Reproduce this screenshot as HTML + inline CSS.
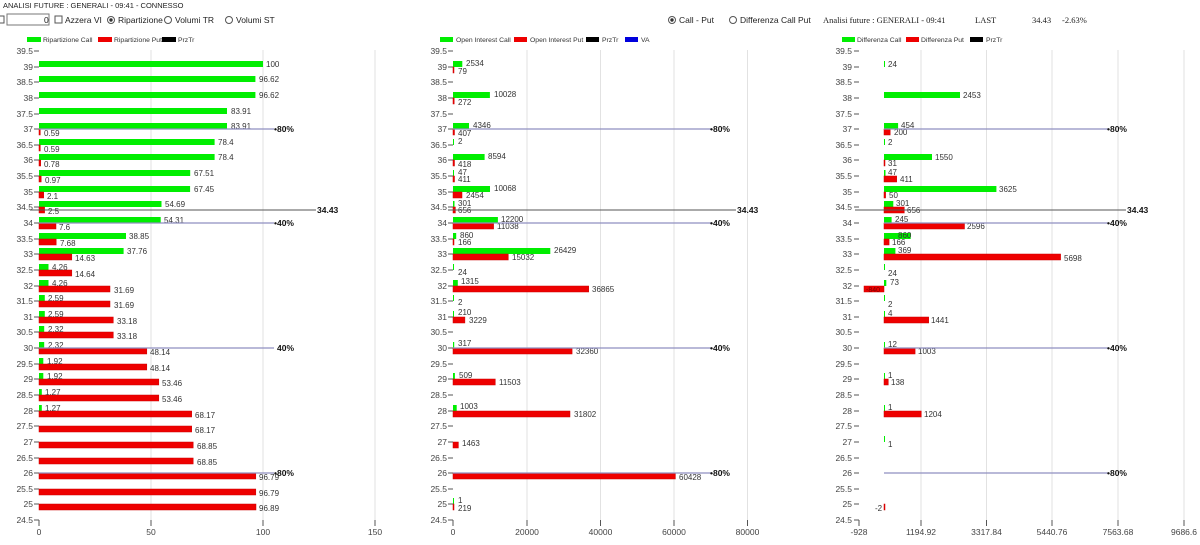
<!DOCTYPE html>
<html><head><meta charset="utf-8"><style>
html,body{margin:0;padding:0;background:#fff;}
svg{display:block;font-family:"Liberation Sans",sans-serif;}
.t{font-size:8px;fill:#333;}
.ax{font-size:8.5px;fill:#444;}
.lg{font-size:6.8px;fill:#333;}
.ui{font-size:8.5px;fill:#222;}
.b{font-size:8.5px;font-weight:bold;fill:#111;}
.g{fill:#00ee00;}
.r{fill:#ee0000;stroke:#c00;stroke-width:.5;}
.gl{stroke:#e2e2e2;stroke-width:1;}
.pl{stroke:#8f8fc0;stroke-width:1.2;}
.kl{stroke:#555;stroke-width:1;}
.tk{stroke:#555;stroke-width:1;fill:none;}
.sf{font-family:'Liberation Serif',serif;font-size:8.5px;fill:#222;}
</style></head><body>
<svg width="1200" height="545" viewBox="0 0 1200 545">
<!-- header -->
<text x="3" y="8" class="ui" style="font-size:7.5px">ANALISI FUTURE : GENERALI - 09:41 - CONNESSO</text>
<rect x="-3" y="16" width="7" height="7" fill="#fff" stroke="#555"/>
<rect x="7" y="14" width="42" height="11" fill="#fff" stroke="#777"/>
<text x="44" y="23" class="ui">0</text>
<rect x="55" y="16" width="7" height="7" fill="#fff" stroke="#555"/>
<text x="65" y="23" class="ui">Azzera VI</text>
<circle cx="111" cy="20" r="3.5" fill="#fff" stroke="#555"/><circle cx="111" cy="20" r="1.7" fill="#333"/>
<text x="118" y="23" class="ui">Ripartizione</text>
<circle cx="168" cy="20" r="3.5" fill="#fff" stroke="#555"/>
<text x="175" y="23" class="ui">Volumi TR</text>
<circle cx="229" cy="20" r="3.5" fill="#fff" stroke="#555"/>
<text x="236" y="23" class="ui">Volumi ST</text>
<circle cx="672" cy="20" r="3.5" fill="#fff" stroke="#555"/><circle cx="672" cy="20" r="1.7" fill="#333"/>
<text x="679" y="23" class="ui">Call - Put</text>
<circle cx="733" cy="20" r="3.5" fill="#fff" stroke="#555"/>
<text x="740" y="23" class="ui">Differenza Call Put</text>
<text x="823" y="23" class="sf">Analisi future : GENERALI - 09:41</text>
<text x="975" y="23" class="sf">LAST</text>
<text x="1032" y="23" class="sf">34.43</text>
<text x="1062" y="23" class="sf">-2.63%</text>
<!-- legends -->
<rect x="27" y="37" width="14" height="5" fill="#00ee00"/><text x="43" y="42" class="lg">Ripartizione Call</text>
<rect x="98" y="37" width="14" height="5" fill="#ee0000"/><text x="114" y="42" class="lg">Ripartizione Put</text>
<rect x="162" y="37" width="14" height="5" fill="#000"/><text x="178" y="42" class="lg">PrzTr</text>
<rect x="440" y="37" width="13" height="5" fill="#00ee00"/><text x="456" y="42" class="lg">Open Interest Call</text>
<rect x="514" y="37" width="13" height="5" fill="#ee0000"/><text x="530" y="42" class="lg">Open Interest Put</text>
<rect x="586" y="37" width="13" height="5" fill="#000"/><text x="602" y="42" class="lg">PrzTr</text>
<rect x="625" y="37" width="13" height="5" fill="#0000dd"/><text x="641" y="42" class="lg">VA</text>
<rect x="842" y="37" width="13" height="5" fill="#00ee00"/><text x="857" y="42" class="lg">Differenza Call</text>
<rect x="906" y="37" width="13" height="5" fill="#ee0000"/><text x="921" y="42" class="lg">Differenza Put</text>
<rect x="970" y="37" width="13" height="5" fill="#000"/><text x="986" y="42" class="lg">PrzTr</text>

<!-- gridlines -->
<g class="gl">
<line x1="151" y1="50" x2="151" y2="520"/><line x1="263" y1="50" x2="263" y2="520"/><line x1="375" y1="50" x2="375" y2="520"/>
<line x1="527" y1="50" x2="527" y2="520"/><line x1="600.5" y1="50" x2="600.5" y2="520"/><line x1="674" y1="50" x2="674" y2="520"/><line x1="747.5" y1="50" x2="747.5" y2="520"/>
<line x1="921" y1="50" x2="921" y2="520"/><line x1="986.5" y1="50" x2="986.5" y2="520"/><line x1="1052" y1="50" x2="1052" y2="520"/><line x1="1118" y1="50" x2="1118" y2="520"/><line x1="1184" y1="50" x2="1184" y2="520"/>
</g>

<g class="ax" text-anchor="end">
<text x="33" y="54">39.5</text><text x="33" y="70">39</text><text x="33" y="85">38.5</text><text x="33" y="101">38</text><text x="33" y="117">37.5</text><text x="33" y="132">37</text><text x="33" y="148">36.5</text><text x="33" y="163">36</text><text x="33" y="179">35.5</text><text x="33" y="195">35</text><text x="33" y="210">34.5</text><text x="33" y="226">34</text><text x="33" y="242">33.5</text><text x="33" y="257">33</text><text x="33" y="273">32.5</text><text x="33" y="289">32</text><text x="33" y="304">31.5</text><text x="33" y="320">31</text><text x="33" y="335">30.5</text><text x="33" y="351">30</text><text x="33" y="367">29.5</text><text x="33" y="382">29</text><text x="33" y="398">28.5</text><text x="33" y="414">28</text><text x="33" y="429">27.5</text><text x="33" y="445">27</text><text x="33" y="461">26.5</text><text x="33" y="476">26</text><text x="33" y="492">25.5</text><text x="33" y="507">25</text><text x="33" y="523">24.5</text>
</g>
<g class="ax" text-anchor="end">
<text x="447" y="54">39.5</text><text x="447" y="70">39</text><text x="447" y="85">38.5</text><text x="447" y="101">38</text><text x="447" y="117">37.5</text><text x="447" y="132">37</text><text x="447" y="148">36.5</text><text x="447" y="163">36</text><text x="447" y="179">35.5</text><text x="447" y="195">35</text><text x="447" y="210">34.5</text><text x="447" y="226">34</text><text x="447" y="242">33.5</text><text x="447" y="257">33</text><text x="447" y="273">32.5</text><text x="447" y="289">32</text><text x="447" y="304">31.5</text><text x="447" y="320">31</text><text x="447" y="335">30.5</text><text x="447" y="351">30</text><text x="447" y="367">29.5</text><text x="447" y="382">29</text><text x="447" y="398">28.5</text><text x="447" y="414">28</text><text x="447" y="429">27.5</text><text x="447" y="445">27</text><text x="447" y="461">26.5</text><text x="447" y="476">26</text><text x="447" y="492">25.5</text><text x="447" y="507">25</text><text x="447" y="523">24.5</text>
</g>
<g class="ax" text-anchor="end">
<text x="852" y="54">39.5</text><text x="852" y="70">39</text><text x="852" y="85">38.5</text><text x="852" y="101">38</text><text x="852" y="117">37.5</text><text x="852" y="132">37</text><text x="852" y="148">36.5</text><text x="852" y="163">36</text><text x="852" y="179">35.5</text><text x="852" y="195">35</text><text x="852" y="210">34.5</text><text x="852" y="226">34</text><text x="852" y="242">33.5</text><text x="852" y="257">33</text><text x="852" y="273">32.5</text><text x="852" y="289">32</text><text x="852" y="304">31.5</text><text x="852" y="320">31</text><text x="852" y="335">30.5</text><text x="852" y="351">30</text><text x="852" y="367">29.5</text><text x="852" y="382">29</text><text x="852" y="398">28.5</text><text x="852" y="414">28</text><text x="852" y="429">27.5</text><text x="852" y="445">27</text><text x="852" y="461">26.5</text><text x="852" y="476">26</text><text x="852" y="492">25.5</text><text x="852" y="507">25</text><text x="852" y="523">24.5</text>
</g>
<g class="tk">
<path d="M34 51h5M34 67h5M34 82h5M34 98h5M34 114h5M34 129h5M34 145h5M34 160h5M34 176h5M34 192h5M34 207h5M34 223h5M34 239h5M34 254h5M34 270h5M34 286h5M34 301h5M34 317h5M34 332h5M34 348h5M34 364h5M34 379h5M34 395h5M34 411h5M34 426h5M34 442h5M34 458h5M34 473h5M34 489h5M34 504h5M34 520h5M39 520v6"/>
<path d="M448 51h5M448 67h5M448 82h5M448 98h5M448 114h5M448 129h5M448 145h5M448 160h5M448 176h5M448 192h5M448 207h5M448 223h5M448 239h5M448 254h5M448 270h5M448 286h5M448 301h5M448 317h5M448 332h5M448 348h5M448 364h5M448 379h5M448 395h5M448 411h5M448 426h5M448 442h5M448 458h5M448 473h5M448 489h5M448 504h5M448 520h5M453 520v6"/>
<path d="M854 51h5M854 67h5M854 82h5M854 98h5M854 114h5M854 129h5M854 145h5M854 160h5M854 176h5M854 192h5M854 207h5M854 223h5M854 239h5M854 254h5M854 270h5M854 286h5M854 301h5M854 317h5M854 332h5M854 348h5M854 364h5M854 379h5M854 395h5M854 411h5M854 426h5M854 442h5M854 458h5M854 473h5M854 489h5M854 504h5M854 520h5M859 520v6"/>
<path d="M151 520v6M263 520v6M375 520v6M527 520v6M600.5 520v6M674 520v6M747.5 520v6M921 520v6M986.5 520v6M1052 520v6M1118 520v6M1184 520v6"/>
</g>
<g class="ax" text-anchor="middle">
<text x="39" y="535">0</text><text x="151" y="535">50</text><text x="263" y="535">100</text><text x="375" y="535">150</text>
<text x="453" y="535">0</text><text x="527" y="535">20000</text><text x="600.5" y="535">40000</text><text x="674" y="535">60000</text><text x="747.5" y="535">80000</text>
<text x="859" y="535">-928</text><text x="921" y="535">1194.92</text><text x="986.5" y="535">3317.84</text><text x="1052" y="535">5440.76</text><text x="1118" y="535">7563.68</text><text x="1184" y="535">9686.6</text>
</g>

<!-- LEFT bars -->
<g>
<rect class="g" x="39" y="61" width="224" height="6"/>
<rect class="g" x="39" y="76" width="216.4" height="6"/>
<rect class="g" x="39" y="92" width="216.4" height="6"/>
<rect class="g" x="39" y="108" width="188" height="6"/>
<rect class="g" x="39" y="123" width="188" height="6"/>
<rect class="g" x="39" y="139" width="175.6" height="6"/>
<rect class="g" x="39" y="154" width="175.6" height="6"/>
<rect class="g" x="39" y="170" width="151.2" height="6"/>
<rect class="g" x="39" y="186" width="151.1" height="6"/>
<rect class="g" x="39" y="201" width="122.5" height="6"/>
<rect class="g" x="39" y="217" width="121.7" height="6"/>
<rect class="g" x="39" y="233" width="87" height="6"/>
<rect class="g" x="39" y="248" width="84.6" height="6"/>
<rect class="g" x="39" y="264" width="9.5" height="6"/>
<rect class="g" x="39" y="280" width="9.5" height="6"/>
<rect class="g" x="39" y="295" width="5.8" height="6"/>
<rect class="g" x="39" y="311" width="5.8" height="6"/>
<rect class="g" x="39" y="326" width="5.2" height="6"/>
<rect class="g" x="39" y="342" width="5.2" height="6"/>
<rect class="g" x="39" y="358" width="4.3" height="6"/>
<rect class="g" x="39" y="373" width="4.3" height="6"/>
<rect class="g" x="39" y="389" width="2.8" height="6"/>
<rect class="g" x="39" y="405" width="2.8" height="6"/>
<rect class="r" x="39" y="129" width="1.3" height="6"/>
<rect class="r" x="39" y="145" width="1.3" height="6"/>
<rect class="r" x="39" y="160" width="1.7" height="6"/>
<rect class="r" x="39" y="176" width="2.2" height="6"/>
<rect class="r" x="39" y="192" width="4.7" height="6"/>
<rect class="r" x="39" y="207" width="5.6" height="6"/>
<rect class="r" x="39" y="223" width="17" height="6"/>
<rect class="r" x="39" y="239" width="17.2" height="6"/>
<rect class="r" x="39" y="254" width="32.8" height="6"/>
<rect class="r" x="39" y="270" width="32.8" height="6"/>
<rect class="r" x="39" y="286" width="71" height="6"/>
<rect class="r" x="39" y="301" width="71" height="6"/>
<rect class="r" x="39" y="317" width="74.3" height="6"/>
<rect class="r" x="39" y="332" width="74.3" height="6"/>
<rect class="r" x="39" y="348" width="107.8" height="6"/>
<rect class="r" x="39" y="364" width="107.8" height="6"/>
<rect class="r" x="39" y="379" width="119.8" height="6"/>
<rect class="r" x="39" y="395" width="119.8" height="6"/>
<rect class="r" x="39" y="411" width="152.7" height="6"/>
<rect class="r" x="39" y="426" width="152.7" height="6"/>
<rect class="r" x="39" y="442" width="154.2" height="6"/>
<rect class="r" x="39" y="458" width="154.2" height="6"/>
<rect class="r" x="39" y="473" width="216.8" height="6"/>
<rect class="r" x="39" y="489" width="216.8" height="6"/>
<rect class="r" x="39" y="504" width="217" height="6"/>
</g>
<g class="t">
<text x="266" y="67">100</text><text x="259" y="82">96.62</text><text x="259" y="98">96.62</text><text x="231" y="114">83.91</text><text x="231" y="129">83.91</text><text x="218" y="145">78.4</text><text x="218" y="160">78.4</text><text x="194" y="176">67.51</text><text x="194" y="192">67.45</text><text x="165" y="207">54.69</text><text x="164" y="223">54.31</text><text x="129" y="239">38.85</text><text x="127" y="254">37.76</text><text x="52" y="270">4.26</text><text x="52" y="286">4.26</text><text x="48" y="301">2.59</text><text x="48" y="317">2.59</text><text x="48" y="332">2.32</text><text x="48" y="348">2.32</text><text x="47" y="364">1.92</text><text x="47" y="379">1.92</text><text x="45" y="395">1.27</text><text x="45" y="411">1.27</text>
<text x="44" y="136">0.59</text><text x="44" y="152">0.59</text><text x="44" y="167">0.78</text><text x="45" y="183">0.97</text><text x="47" y="199">2.1</text><text x="48" y="214">2.5</text><text x="59" y="230">7.6</text><text x="60" y="246">7.68</text><text x="75" y="261">14.63</text><text x="75" y="277">14.64</text><text x="114" y="293">31.69</text><text x="114" y="308">31.69</text><text x="117" y="324">33.18</text><text x="117" y="339">33.18</text><text x="150" y="355">48.14</text><text x="150" y="371">48.14</text><text x="162" y="386">53.46</text><text x="162" y="402">53.46</text><text x="195" y="418">68.17</text><text x="195" y="433">68.17</text><text x="197" y="449">68.85</text><text x="197" y="465">68.85</text><text x="259" y="480">96.79</text><text x="259" y="496">96.79</text><text x="259" y="511">96.89</text>
</g>

<!-- MIDDLE bars -->
<g>
<rect class="g" x="453" y="61" width="9.3" height="6"/>
<rect class="g" x="453" y="92" width="36.9" height="6"/>
<rect class="g" x="453" y="123" width="16" height="6"/>
<rect class="g" x="453" y="139" width="1" height="6"/>
<rect class="g" x="453" y="154" width="31.6" height="6"/>
<rect class="g" x="453" y="170" width="1" height="6"/>
<rect class="g" x="453" y="186" width="37" height="6"/>
<rect class="g" x="453" y="201" width="1.5" height="6"/>
<rect class="g" x="453" y="217" width="44.9" height="6"/>
<rect class="g" x="453" y="233" width="3.2" height="6"/>
<rect class="g" x="453" y="248" width="97.3" height="6"/>
<rect class="g" x="453" y="264" width="1" height="6"/>
<rect class="g" x="453" y="280" width="4.8" height="6"/>
<rect class="g" x="453" y="295" width="1" height="6"/>
<rect class="g" x="453" y="311" width="1" height="6"/>
<rect class="g" x="453" y="342" width="1.2" height="6"/>
<rect class="g" x="453" y="373" width="1.9" height="6"/>
<rect class="g" x="453" y="405" width="3.7" height="6"/>
<rect class="g" x="453" y="498" width="1" height="6"/>
<rect class="r" x="453" y="67" width="1" height="6"/>
<rect class="r" x="453" y="98" width="1.2" height="6"/>
<rect class="r" x="453" y="129" width="1.5" height="6"/>
<rect class="r" x="453" y="160" width="1.5" height="6"/>
<rect class="r" x="453" y="176" width="1.5" height="6"/>
<rect class="r" x="453" y="192" width="9" height="6"/>
<rect class="r" x="453" y="207" width="2.4" height="6"/>
<rect class="r" x="453" y="223" width="40.6" height="6"/>
<rect class="r" x="453" y="239" width="1" height="6"/>
<rect class="r" x="453" y="254" width="55.3" height="6"/>
<rect class="r" x="453" y="286" width="135.7" height="6"/>
<rect class="r" x="453" y="317" width="11.9" height="6"/>
<rect class="r" x="453" y="348" width="119.1" height="6"/>
<rect class="r" x="453" y="379" width="42.3" height="6"/>
<rect class="r" x="453" y="411" width="117" height="6"/>
<rect class="r" x="453" y="442" width="5.4" height="6"/>
<rect class="r" x="453" y="473" width="222.4" height="6"/>
<rect class="r" x="453" y="504" width="1" height="6"/>
</g>
<g class="t">
<text x="466" y="66">2534</text><text x="494" y="97">10028</text><text x="473" y="128">4346</text><text x="458" y="144">2</text><text x="488" y="159">8594</text><text x="458" y="175">47</text><text x="494" y="191">10068</text><text x="458" y="206">301</text><text x="501" y="222">12200</text><text x="460" y="238">860</text><text x="554" y="253">26429</text><text x="458" y="275">24</text><text x="461" y="284">1315</text><text x="458" y="305">2</text><text x="458" y="315">210</text><text x="458" y="346">317</text><text x="459" y="378">509</text><text x="460" y="409">1003</text><text x="458" y="503">1</text>
<text x="458" y="74">79</text><text x="458" y="105">272</text><text x="458" y="136">407</text><text x="458" y="167">418</text><text x="458" y="182">411</text><text x="466" y="198">2454</text><text x="458" y="213">656</text><text x="497" y="229">11038</text><text x="458" y="245">166</text><text x="512" y="260">15032</text><text x="592" y="292">36865</text><text x="469" y="323">3229</text><text x="576" y="354">32360</text><text x="499" y="385">11503</text><text x="574" y="417">31802</text><text x="462" y="446">1463</text><text x="679" y="480">60428</text><text x="458" y="511">219</text>
</g>

<!-- RIGHT bars -->
<g>
<rect class="g" x="884" y="61" width="1" height="6"/>
<rect class="g" x="884" y="92" width="76" height="6"/>
<rect class="g" x="884" y="123" width="14.1" height="6"/>
<rect class="g" x="884" y="139" width="1" height="6"/>
<rect class="g" x="884" y="154" width="48" height="6"/>
<rect class="g" x="884" y="170" width="1.5" height="6"/>
<rect class="g" x="884" y="186" width="112.4" height="6"/>
<rect class="g" x="884" y="201" width="9.3" height="6"/>
<rect class="g" x="884" y="217" width="7.6" height="6"/>
<rect class="g" x="884" y="233" width="26.7" height="6"/>
<rect class="g" x="884" y="248" width="11.4" height="6"/>
<rect class="g" x="884" y="264" width="1" height="6"/>
<rect class="g" x="884" y="280" width="2.3" height="6"/>
<rect class="g" x="884" y="295" width="1" height="6"/>
<rect class="g" x="884" y="311" width="1" height="6"/>
<rect class="g" x="884" y="342" width="1" height="6"/>
<rect class="g" x="884" y="373" width="1" height="6"/>
<rect class="g" x="884" y="405" width="1" height="6"/>
<rect class="g" x="884" y="436" width="1" height="6"/>
<rect class="r" x="884" y="129" width="6.2" height="6"/>
<rect class="r" x="884" y="160" width="1" height="6"/>
<rect class="r" x="884" y="176" width="12.7" height="6"/>
<rect class="r" x="884" y="192" width="1.6" height="6"/>
<rect class="r" x="884" y="207" width="20.3" height="6"/>
<rect class="r" x="884" y="223" width="80.5" height="6"/>
<rect class="r" x="884" y="239" width="5.1" height="6"/>
<rect class="r" x="884" y="254" width="176.6" height="6"/>
<rect class="r" x="864" y="286" width="20" height="6"/>
<rect class="r" x="884" y="317" width="44.7" height="6"/>
<rect class="r" x="884" y="348" width="31.1" height="6"/>
<rect class="r" x="884" y="379" width="4.3" height="6"/>
<rect class="r" x="884" y="411" width="37.3" height="6"/>
<rect class="r" x="884" y="504" width="1" height="6"/>
</g>
<g class="t">
<text x="888" y="67">24</text><text x="963" y="98">2453</text><text x="901" y="128">454</text><text x="888" y="145">2</text><text x="935" y="160">1550</text><text x="888" y="175">47</text><text x="999" y="192">3625</text><text x="896" y="206">301</text><text x="895" y="222">245</text><text x="898" y="238">860</text><text x="898" y="253">369</text><text x="888" y="276">24</text><text x="890" y="285">73</text><text x="888" y="307">2</text><text x="888" y="316">4</text><text x="888" y="347">12</text><text x="888" y="378">1</text><text x="888" y="410">1</text><text x="888" y="447">1</text>
<text x="894" y="135">200</text><text x="888" y="166">31</text><text x="900" y="182">411</text><text x="889" y="198">50</text><text x="907" y="213">656</text><text x="967" y="229">2596</text><text x="892" y="245">166</text><text x="1064" y="261">5698</text><text x="866" y="292" style="fill:#700;font-size:7px">-840</text><text x="931" y="323">1441</text><text x="918" y="354">1003</text><text x="891" y="385">138</text><text x="924" y="417">1204</text><text x="875" y="511">-2</text>
</g>

<!-- reference lines -->
<g class="kl">
<line x1="30" y1="210" x2="316" y2="210"/>
<line x1="448" y1="210" x2="736" y2="210"/>
<line x1="855" y1="210" x2="1126" y2="210"/>
</g>
<g class="pl">
<line x1="39" y1="129" x2="274" y2="129"/><line x1="39" y1="223" x2="274" y2="223"/><line x1="39" y1="348" x2="274" y2="348"/><line x1="39" y1="473" x2="274" y2="473"/>
<line x1="453" y1="129" x2="711" y2="129"/><line x1="453" y1="223" x2="711" y2="223"/><line x1="453" y1="348" x2="711" y2="348"/><line x1="453" y1="473" x2="711" y2="473"/>
<line x1="884" y1="129" x2="1108" y2="129"/><line x1="884" y1="223" x2="1108" y2="223"/><line x1="884" y1="348" x2="1108" y2="348"/><line x1="884" y1="473" x2="1108" y2="473"/>
</g>
<g class="b">
<text x="274" y="132">•80%</text><text x="274" y="226">•40%</text><text x="277" y="351">40%</text><text x="274" y="476">•80%</text><text x="317" y="213">34.43</text>
<text x="710" y="132">•80%</text><text x="710" y="226">•40%</text><text x="710" y="351">•40%</text><text x="710" y="476">•80%</text><text x="737" y="213">34.43</text>
<text x="1107" y="132">•80%</text><text x="1107" y="226">•40%</text><text x="1107" y="351">•40%</text><text x="1107" y="476">•80%</text><text x="1127" y="213">34.43</text>
</g>
</svg>
</body></html>
